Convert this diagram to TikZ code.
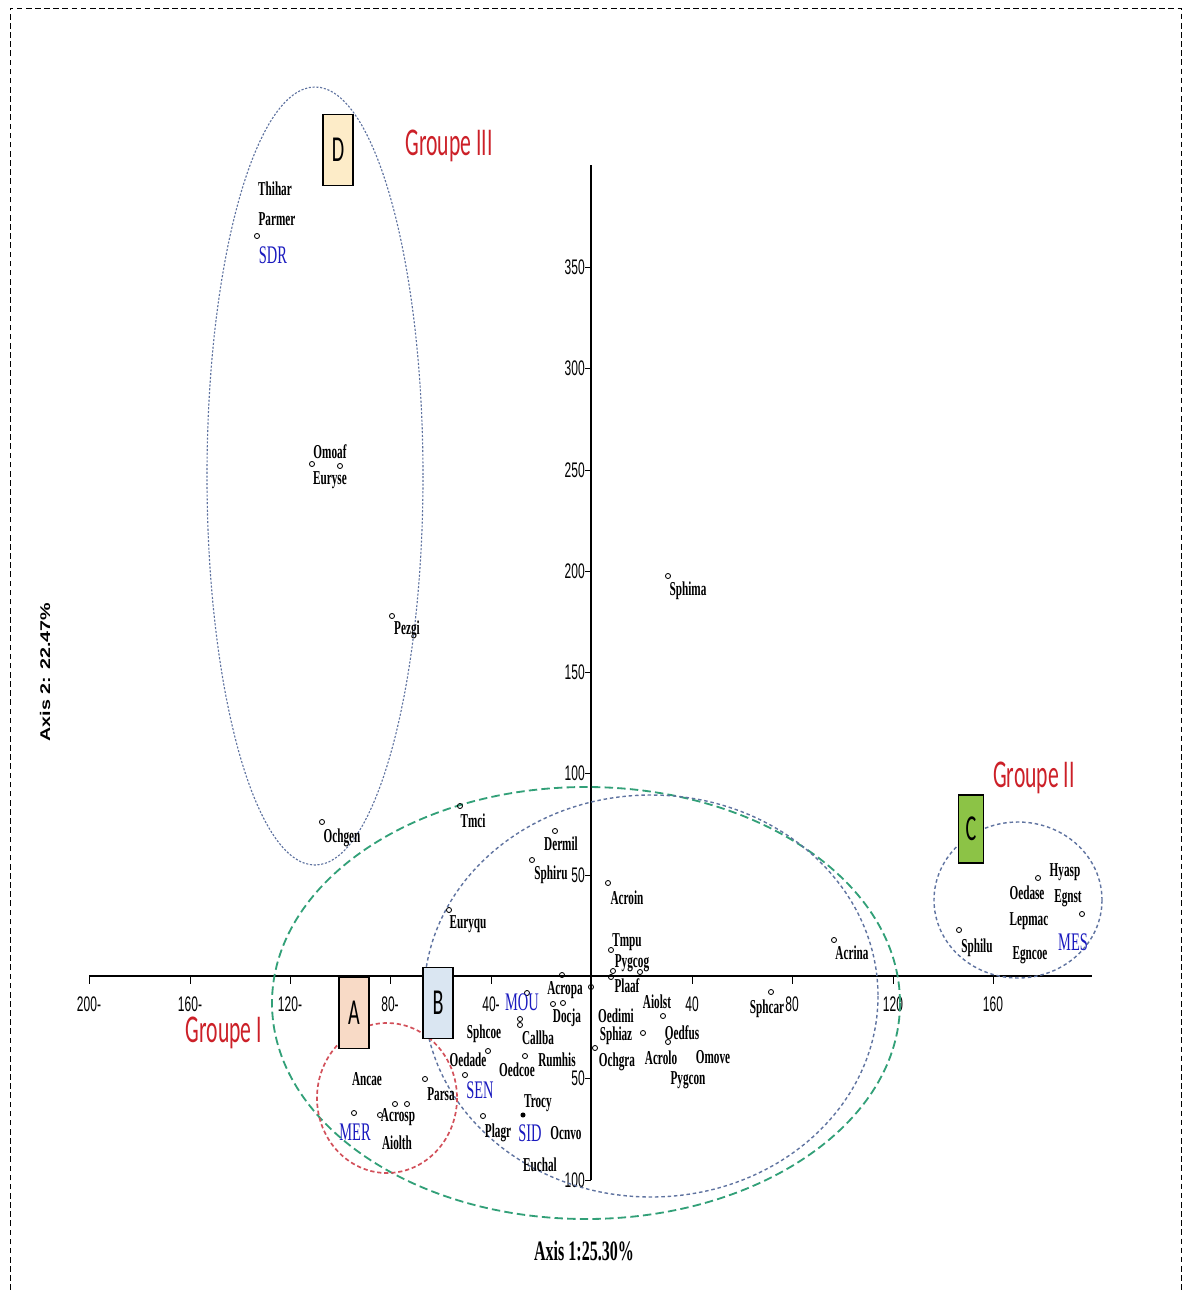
\documentclass[tikz,border=0pt]{standalone}
\usepackage{fontspec}
\usepackage{tikz}
\setmainfont{Liberation Serif}
\newfontfamily\lblfont[FakeStretch=0.57]{Liberation Serif}
\newfontfamily\numfont[FakeStretch=0.57]{Liberation Sans}
\newfontfamily\grpfont[FakeStretch=0.55]{Carlito}
\newfontfamily\axtwofont[FakeStretch=1.4]{Liberation Sans}
\definecolor{grpred}{RGB}{204,32,40}
\definecolor{siteblue}{RGB}{25,25,190}
\definecolor{ellblue}{RGB}{95,115,160}
\definecolor{ellgreen}{RGB}{50,160,120}
\definecolor{ellred}{RGB}{210,80,90}
\definecolor{fillA}{RGB}{248,218,198}
\definecolor{fillB}{RGB}{218,230,242}
\definecolor{fillC}{RGB}{140,195,70}
\definecolor{fillD}{RGB}{253,236,200}
\tikzset{
  lab/.style={font=\lblfont\bfseries\fontsize{14}{14}\selectfont, inner sep=0pt},
  site/.style={font=\lblfont\fontsize{18}{18}\selectfont, text=siteblue, inner sep=0pt},
  num/.style={font=\numfont\fontsize{15}{15}\selectfont, inner sep=0pt},
  grp/.style={font=\grpfont\fontsize{28}{28}\selectfont, text=grpred, inner sep=0pt},
  letterbox/.style={draw, line width=0.9pt, inner sep=0pt, minimum width=0.75cm, minimum height=1.78cm, font=\grpfont\fontsize{26}{26}\selectfont},
  pt/.style={line width=0.6pt},
}

\begin{document}
\begin{tikzpicture}[x=0.025cm, y=-0.025cm] % 1単位 = 1px
  \useasboundingbox (0,0) rectangle (1184,1290);
  \draw[line width=0.7pt, dash pattern=on 4pt off 2.5pt] (10,1290) -- (10,8) -- (1181,8) -- (1181,1290); % 外枠

  \draw[line width=1pt] (89,976) -- (1092,976); % 横軸
  \draw[line width=1pt] (591,165) -- (591,1180); % 縦軸
  \foreach \x/\t in {89/200-, 190/160-, 290/120-, 390/80-, 491/40-, 692/40, 792/80, 893/120, 993/160}
    \draw (\x,976) -- (\x,984) node[num, anchor=north, yshift=-9pt] {\t}; % 目盛り
  \foreach \y/\t in {267/350, 368/300, 470/250, 571/200, 672/150, 773/100, 875/50, 1078/50, 1180/100}
    \draw (591,\y) -- (585,\y) node[num, anchor=east] {\t};
  \node[font=\lblfont\bfseries\fontsize{20}{20}\selectfont] (ax1) at (584,1251) {Axis 1:25.30\%};
  \node[font=\axtwofont\bfseries\fontsize{10}{10}\selectfont, rotate=90] (ax2) at (45,672) {Axis 2: 22.47\%};

  % グループの楕円
  \draw[ellblue, line width=0.8pt, dash pattern=on 1.5pt off 1.2pt] (315,476) ellipse [x radius=108, y radius=389];
  \draw[ellgreen, line width=1.3pt, dash pattern=on 6pt off 3pt] (586,1003) ellipse [x radius=314, y radius=216];
  \draw[ellblue, line width=1pt, dash pattern=on 2.5pt off 2pt] (651,996) ellipse [x radius=227, y radius=201];
  \draw[ellred, line width=1.2pt, dash pattern=on 3pt off 2pt] (387,1098) ellipse [x radius=70, y radius=75];
  \draw[ellblue, line width=1pt, dash pattern=on 2.5pt off 2pt] (1018,900) ellipse [x radius=84, y radius=78];

  \node[letterbox, fill=fillD] (D) at (338,150) {D};
  \node[letterbox, fill=fillA] (A) at (354,1013) {A};
  \node[letterbox, fill=fillB] (B) at (438,1003) {B};
  \node[letterbox, fill=fillC, minimum width=0.63cm, minimum height=1.7cm] (C) at (971,829) {C};
  \node[grp] (g3) at (449,146) {Groupe III};
  \node[grp] (g2) at (1034,778) {Groupe II};
  \node[grp] (g1) at (224,1033) {Groupe I};

  % 点
  \foreach \x/\y in {257/236, 312/464, 340/466, 392/616, 322/822, 668/576, 460/806, 555/831, 532/860,
      608/883, 449/910, 611/950, 613/971, 640/972, 611/977, 834/940, 771/992, 663/1016, 668/1042,
      643/1033, 595/1048, 591/987, 562/975, 553/1004, 563/1003, 527/993, 520/1019, 520/1025,
      488/1051, 465/1075, 525/1056, 425/1079, 483/1116, 354/1113, 380/1115, 395/1104, 407/1104,
      1038/878, 1082/914, 959/930}
    \draw[pt] (\x,\y) circle (1.8pt);
  \fill (523,1115) circle (1.8pt);

  % 種名
  \foreach \n/\x/\y in {Thihar/275/189, Parmer/277/219, Omoaf/330/452, Euryse/330/480, Pezgi/407/630,
      Ochgen/342/838, Sphima/688/591, Tmci/473/821, Dermil/561/844, Sphiru/551/875, Acroin/627/898,
      Euryqu/468/924, Tmpu/627/942, Pygcog/632/963, Plaaf/627/986, Acrina/852/953, Sphcar/767/1009,
      Aiolst/657/1002, Oedfus/682/1033, Acrolo/661/1058, Omove/713/1057, Pygcon/688/1080,
      Oedimi/616/1016, Sphiaz/616/1036, Ochgra/617/1062, Acropa/565/990, Docja/567/1018,
      Callba/538/1038, Sphcoe/484/1034, Oedade/468/1060, Oedcoe/517/1070, Rumhis/557/1060,
      Parsa/441/1094, Trocy/538/1103, Plagr/498/1133, Ocnvo/566/1133, Euchal/540/1165,
      Ancae/367/1079, Acrosp/398/1117, Aiolth/397/1143, Hyasp/1065/872, Oedase/1027/893,
      Egnst/1068/898, Lepmac/1029/921, Sphilu/977/948, Egncoe/1030/955}
    \node[lab] (\n) at (\x,\y) {\n};

  % 地点
  \foreach \n/\x/\y in {SDR/273/255, MOU/522/1002, SEN/480/1090, SID/530/1133, MER/355/1132, MES/1073/942}
    \node[site] (\n) at (\x,\y) {\n};
\end{tikzpicture}
\end{document}
